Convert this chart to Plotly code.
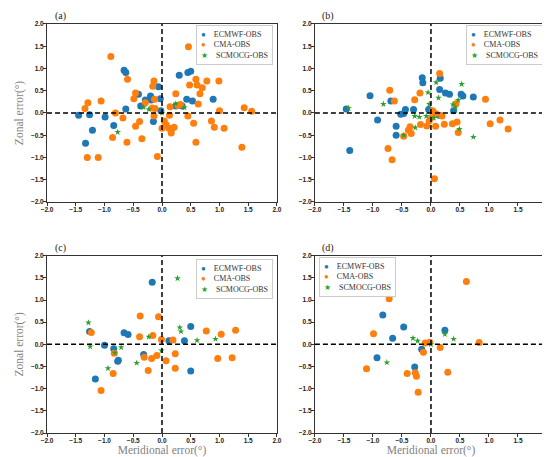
import plotly.graph_objects as go
from plotly.subplots import make_subplots

# ---- data: (meridional error, zonal error) pairs per panel ----
a_ecmwf_x = [-1.45, -1.26, -1.21, -1.33, -0.99, -0.84, -0.66, -0.63, -0.63, -0.41, -0.37, -0.29, -0.20,
             -0.19, -0.15, -0.06, -0.03, 0.30, 0.45, 0.50, 0.43, 0.53, 0.24, 0.35, 0.89, -0.02]
a_ecmwf_y = [-0.05, -0.04, -0.39, -0.68, -0.09, -0.28, 0.96, 0.91, 0.09, 0.42, 0.16, 0.29, 0.38,
             0.29, -0.19, 0.59, 0.32, 0.85, 0.91, 0.94, 0.31, 0.27, 0.16, 0.16, 0.31, 0.05]
a_cma_x = [-0.89, 0.46, -1.29, -1.34, -1.06, -1.30, -1.11, -0.81, -0.86, -0.68, -0.60, -0.61, -0.46,
           -0.49, -0.46, -0.39, -0.35, -0.29, -0.14, -0.16, -0.13, -0.17, -0.12, -0.14, -0.08, 0.00,
           0.04, 0.07, 0.12, 0.16, 0.16, 0.14, 0.13, 0.21, 0.24, 0.28, 0.32, 0.45, 0.48, 0.55, 0.59,
           0.59, 0.61, 0.63, 0.66, 0.70, 0.78, 0.86, 0.91, 0.99, 1.00, 1.08, 1.39, 1.43, 1.56]
a_cma_y = [1.27, 1.49, 0.23, 0.10, 0.27, -1.00, -1.00, 0.00, -0.55, -0.11, 0.76, -0.66, -0.30,
           0.32, 0.45, -0.19, -0.58, 0.23, 0.72, 0.60, 0.31, 0.11, 0.10, -0.07, -0.98, -0.34,
           -0.18, -0.26, -0.34, -0.39, -0.45, 0.14, -0.05, -0.32, 0.43, 0.17, 0.19, -0.07, 0.63, -0.23, -0.66,
           0.76, 0.63, 0.20, 0.43, 0.57, 0.72, -0.18, -0.32, 0.72, 0.05, -0.34, -0.77, 0.12, 0.04]
a_scm_x = [-0.77, -0.32, -0.23, 0.00, 0.24, 0.39]
a_scm_y = [-0.43, 0.13, 0.08, 0.00, 0.21, 0.12]

b_ecmwf_x = [-1.46, -1.40, -1.05, -0.92, -0.69, -0.60, -0.60, -0.52, -0.47, -0.44, -0.30, -0.15, -0.14,
             -0.04, 0.16, 0.15, 0.25, 0.32, 0.39, 0.52, 0.55, 0.73, 0.14]
b_ecmwf_y = [0.09, -0.84, 0.39, -0.16, 0.27, -0.30, -0.50, -0.03, -0.01, 0.08, 0.08, 0.79, 0.68,
             0.08, 0.78, 0.53, 0.45, 0.42, 0.05, 0.42, 0.38, 0.36, -0.05]
b_cma_x = [-0.71, -0.63, -0.74, -0.67, -0.47, -0.39, -0.36, -0.34, -0.28, -0.19, -0.18, -0.07, -0.03,
           0.03, 0.08, 0.01, 0.15, 0.06, 0.19, 0.23, 0.37, 0.45, 0.43, 0.47, 0.94, 1.02, 1.19, 1.33, 0.08]
b_cma_y = [0.51, 0.27, -0.80, -1.05, -0.52, -0.39, -0.31, -0.46, 0.30, 0.45, -0.26, -0.29, -0.18,
           0.05, -0.30, -0.10, 0.89, -1.48, -0.07, -0.25, -0.24, -0.20, 0.21, -0.44, 0.31, -0.24, -0.16, -0.36, -0.01]
b_scm_x = [-1.42, -0.82, -0.47, -0.28, -0.27, -0.20, -0.08, -0.05, -0.03, 0.09, 0.13, 0.38, 0.42,
           0.47, 0.53, 0.49, 0.73, 0.05]
b_scm_y = [0.11, 0.20, -0.50, -0.07, -0.33, -0.09, -0.07, 0.46, 0.20, 0.69, 0.34, 0.19, 0.12,
           0.29, 0.65, -0.36, -0.54, -0.11]

c_ecmwf_x = [-1.26, -1.00, -1.16, -0.84, -0.77, -0.76, -0.66, -0.59, -0.32, -0.17, 0.12, 0.39, 0.50, 0.50]
c_ecmwf_y = [0.29, -0.02, -0.78, -0.10, -0.38, -0.36, 0.26, 0.22, -0.23, 1.40, 0.08, 0.08, 0.40, -0.60]
c_cma_x = [-1.23, -1.06, -0.85, -0.83, -0.38, -0.39, -0.31, -0.16, -0.18, -0.24, -0.09, -0.06, -0.01,
           0.07, 0.19, 0.23, 0.23, 0.77, 0.97, 1.03, 1.22, 1.28]
c_cma_y = [0.27, -1.04, -0.66, -0.20, 0.64, 0.17, -0.29, 0.20, -0.32, -0.59, -0.25, 0.62, 0.11,
           -0.37, 0.10, -0.21, -0.54, 0.30, -0.32, 0.23, -0.30, 0.32]
c_scm_x = [-1.28, -1.25, -0.94, -0.82, -0.71, -0.44, -0.23, -0.01, 0.27, 0.31, 0.33, 0.61, 0.93]
c_scm_y = [0.49, -0.05, -0.54, -0.19, -0.07, -0.42, 0.17, -0.14, 1.49, 0.38, 0.29, 0.09, 0.12]

d_ecmwf_x = [-0.83, -0.66, -0.47, -0.93, -0.28, -0.16, 0.24]
d_ecmwf_y = [0.66, 0.14, 0.39, -0.30, -0.51, -0.11, 0.32]
d_cma_x = [-0.72, -0.99, -1.11, -0.41, -0.27, -0.25, -0.22, -0.13, -0.10, -0.02, 0.16, 0.29, 0.61, 0.83]
d_cma_y = [1.03, 0.24, -0.55, -0.66, -0.64, -0.72, -1.08, -0.18, 0.03, 0.05, -0.07, -0.63, 1.42, 0.04]
d_scm_x = [-0.76, -0.31, -0.23, 0.24, 0.39, 0.00]
d_scm_y = [-0.41, 0.14, 0.08, 0.23, 0.12, 0.00]

series_names = ["ECMWF-OBS", "CMA-OBS", "SCMOCG-OBS"]
series_colors = ["#1f77b4", "#ff7f0e", "#2ca02c"]
series_glyphs = ["●", "●", "★"]
panel_labels = ["(a)", "(b)", "(c)", "(d)"]

panels = [
    [(a_ecmwf_x, a_ecmwf_y), (a_cma_x, a_cma_y), (a_scm_x, a_scm_y)],
    [(b_ecmwf_x, b_ecmwf_y), (b_cma_x, b_cma_y), (b_scm_x, b_scm_y)],
    [(c_ecmwf_x, c_ecmwf_y), (c_cma_x, c_cma_y), (c_scm_x, c_scm_y)],
    [(d_ecmwf_x, d_ecmwf_y), (d_cma_x, d_cma_y), (d_scm_x, d_scm_y)],
]

serif = "Liberation Serif, DejaVu Serif, serif"
sans = "Liberation Sans, Arial, sans-serif"

fig = make_subplots(rows=2, cols=2)

for p, series in enumerate(panels):
    row, col = p // 2 + 1, p % 2 + 1
    for s, (xs, ys) in enumerate(series):
        star = s == 2
        fig.add_trace(go.Scatter(
            x=xs, y=ys, mode="markers", name=series_names[s], showlegend=False,
            marker=dict(color=series_colors[s], size=5 if star else 7,
                        symbol="star" if star else "circle", line=dict(width=0))),
            row=row, col=col)
    # dashed zero lines
    fig.add_hline(y=0, line=dict(color="black", width=1.5, dash="5px,3px"), row=row, col=col)
    fig.add_vline(x=0, line=dict(color="black", width=1.5, dash="5px,3px"), row=row, col=col)

# panel placement (paper fractions of the 550x457 canvas)
x_domains = [[0.071, 0.489], [0.558, 0.98]]
y_domains = [[0.5755, 0.965], [0.070, 0.458]]

axis_style = dict(range=[-2, 2], dtick=0.5, tickformat=".1f", showgrid=False, zeroline=False,
                  showline=True, linecolor="#333333", linewidth=1, mirror=True, automargin=False,
                  ticks="outside", ticklen=3, tickcolor="#333333", ticklabelstandoff=-2,
                  tickfont=dict(family=sans, size=6.5, color="#222222", weight="bold"))
for p in range(4):
    r, c = p // 2, p % 2
    sfx = "" if p == 0 else str(p + 1)
    xa = dict(axis_style, domain=x_domains[c])
    ya = dict(axis_style, domain=y_domains[r])
    if r == 1:
        xa["title"] = dict(text="Meridional error(°)", standoff=2,
                           font=dict(family=serif, size=11.5, color="#7f7f7f"))
    if c == 0:
        ya["title"] = dict(text="Zonal error(°)", standoff=4,
                           font=dict(family=serif, size=11.5, color="#7f7f7f"))
    fig.layout["xaxis" + sfx].update(xa)
    fig.layout["yaxis" + sfx].update(ya)

# panel labels
label_pos = [(0.082, 0.982), (0.568, 0.982), (0.082, 0.474), (0.568, 0.474)]
for lab, (lx, ly) in zip(panel_labels, label_pos):
    fig.add_annotation(text=lab, x=lx, y=ly, xref="paper", yref="paper", showarrow=False,
                       xanchor="left", yanchor="middle",
                       font=dict(family=serif, size=10, color="#222222"))

# compact legend boxes, one per panel
legend_text = "<br>".join(
    f"<span style='color:{col}'>{g}</span>    {name}"
    for col, g, name in zip(series_colors, series_glyphs, series_names))
legend_pos = [(0.482, 0.963, "right"), (0.973, 0.963, "right"),
              (0.482, 0.450, "right"), (0.566, 0.456, "left")]
for lx, ly, anchor in legend_pos:
    fig.add_annotation(text=legend_text, x=lx, y=ly, xref="paper", yref="paper",
                       showarrow=False, xanchor=anchor, yanchor="top", align="left",
                       font=dict(family=serif, size=8, color="#333333"),
                       bgcolor="rgba(255,255,255,0.8)", bordercolor="#cccccc",
                       borderwidth=1, borderpad=4)

fig.update_layout(
    width=550, height=457,
    margin=dict(l=0, r=0, t=0, b=0),
    paper_bgcolor="white", plot_bgcolor="white",
)

fig.write_html("out.html")
